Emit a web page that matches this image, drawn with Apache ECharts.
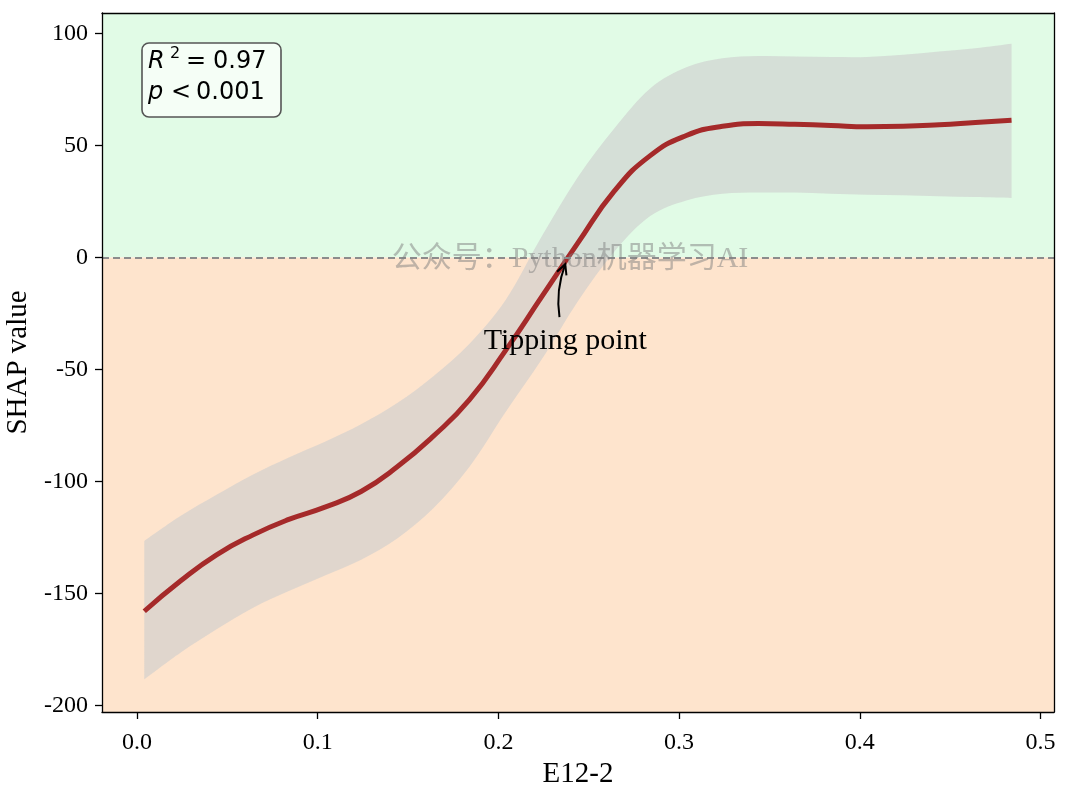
<!DOCTYPE html>
<html>
<head>
<meta charset="utf-8">
<script src="https://cdn.jsdelivr.net/npm/echarts@6/dist/echarts.min.js"></script>
<style>
html,body{margin:0;padding:0;background:#fff;}
#chart{width:1065px;height:785px;}
</style>
</head>
<body>
<div id="chart"></div>
<script>
// ---- data ----
const xValues = [0.004, 0.024, 0.044, 0.064, 0.084, 0.104, 0.124, 0.144, 0.164, 0.184, 0.204, 0.224, 0.244, 0.264, 0.284, 0.304, 0.324, 0.344, 0.364, 0.384, 0.404, 0.424, 0.444, 0.464, 0.484];
const centerValues = [-158, -144.5, -132.8, -124, -117, -111.5, -104.5, -93.5, -79.8, -63.5, -41.5, -17.5, 6.5, 29.5, 45.5, 54.5, 58.6, 59.8, 59.5, 59, 58.4, 58.6, 59.3, 60.3, 61.3];
const upperValues = [-126.6, -115.5, -106, -97, -89.3, -82.3, -74.5, -65, -53, -38.5, -19, 9.5, 36, 57.5, 75.5, 85, 89, 90, 89.8, 89.5, 89.5, 90.5, 92, 93.5, 95.5];
const lowerValues = [-188.4, -176.5, -166, -156.5, -149, -142, -135, -125.5, -112, -93.5, -69, -45.5, -19.5, 2.5, 18.5, 25.5, 28.5, 29, 29, 28.5, 28, 27.8, 27.4, 27, 26.6];
const xTicks = [0, 0.1, 0.2, 0.3, 0.4, 0.5];
const yTicks = [-200, -150, -100, -50, 0, 50, 100];
const xLimits = [-0.0194, 0.5075];
const yLimits = [-203, 109.2];
const tipping = {x: 0.237, y: -3, tailY: -26.6, textY: -37.5, label: 'Tipping point'};
const statsText = {r2: '0.97', p: '0.001'};
const watermark = '公众号：Python机器学习AI';
const xName = 'E12-2';
const yName = 'SHAP value';

const serif = "'Liberation Serif', 'Times New Roman', serif";
const bandRows = xValues.map((x, i) => [x, lowerValues[i], upperValues[i]]);
const centerPairs = xValues.map((x, i) => [x, centerValues[i]]);

// smooth path (Catmull-Rom -> cubic Bezier) through already-projected pixel points
function splinePath(pts, moveFirst) {
  let d = (moveFirst ? 'M' : 'L') + pts[0][0] + ' ' + pts[0][1];
  for (let i = 0; i < pts.length - 1; i++) {
    const p0 = pts[Math.max(i - 1, 0)], p1 = pts[i], p2 = pts[i + 1], p3 = pts[Math.min(i + 2, pts.length - 1)];
    const c1 = [p1[0] + (p2[0] - p0[0]) / 6, p1[1] + (p2[1] - p0[1]) / 6];
    const c2 = [p2[0] - (p3[0] - p1[0]) / 6, p2[1] - (p3[1] - p1[1]) / 6];
    d += 'C' + c1[0] + ' ' + c1[1] + ' ' + c2[0] + ' ' + c2[1] + ' ' + p2[0] + ' ' + p2[1];
  }
  return d;
}

const chart = echarts.init(document.getElementById('chart'), null, {renderer: 'canvas'});

const baseAxisLine = {show: true, onZero: false, lineStyle: {color: '#000', width: 1.3}};

chart.setOption({
  animation: false,
  backgroundColor: '#ffffff',
  grid: {left: 102, right: 11, top: 13, bottom: 73, containLabel: false, outerBoundsMode: 'none'},
  xAxis: [{
    type: 'value', min: xLimits[0], max: xLimits[1], z: 10,
    name: xName, nameLocation: 'middle', nameGap: 46,
    nameTextStyle: {fontFamily: serif, fontSize: 29, color: '#000'},
    axisLine: baseAxisLine,
    axisTick: {show: true, length: 7, inside: false, customValues: xTicks, lineStyle: {color: '#000', width: 1.3}},
    axisLabel: {customValues: xTicks, margin: 19, fontFamily: serif, fontSize: 24, color: '#000', formatter: v => v.toFixed(1)},
    splitLine: {show: false}
  }, {
    type: 'value', min: xLimits[0], max: xLimits[1], position: 'top', z: 10,
    axisLine: baseAxisLine, axisTick: {show: false}, axisLabel: {show: false}, splitLine: {show: false}
  }],
  yAxis: [{
    type: 'value', min: yLimits[0], max: yLimits[1], z: 10,
    name: yName, nameLocation: 'middle', nameGap: 61,
    nameTextStyle: {fontFamily: serif, fontSize: 29, color: '#000'},
    axisLine: baseAxisLine,
    axisTick: {show: true, length: 7, inside: false, customValues: yTicks, lineStyle: {color: '#000', width: 1.3}},
    axisLabel: {customValues: yTicks, margin: 14, fontFamily: serif, fontSize: 24, color: '#000'},
    splitLine: {show: false}
  }, {
    type: 'value', min: yLimits[0], max: yLimits[1], position: 'right', z: 10,
    axisLine: baseAxisLine, axisTick: {show: false}, axisLabel: {show: false}, splitLine: {show: false}
  }],
  series: [
    {
      type: 'line', data: [], z: 0, silent: true,
      markArea: {
        silent: true,
        data: [
          [{yAxis: 0, itemStyle: {color: '#e1fbe6'}}, {yAxis: yLimits[1]}],
          [{yAxis: yLimits[0], itemStyle: {color: '#fee4cd'}}, {yAxis: 0}]
        ]
      }
    },
    {
      type: 'custom', z: 1, silent: true, data: bandRows,
      encode: {x: 0, y: [1, 2]},
      renderItem: function (params, api) {
        if (params.dataIndex !== 0) return null;
        const up = bandRows.map(r => api.coord([r[0], r[2]]));
        const lo = bandRows.map(r => api.coord([r[0], r[1]])).reverse();
        const d = splinePath(up, true) + splinePath(lo, false) + 'Z';
        return {
          type: 'path',
          shape: {pathData: d},
          style: {fill: 'rgba(205,205,205,0.62)', stroke: null}
        };
      }
    },
    {
      type: 'line', data: [], z: 2, silent: true,
      markLine: {
        silent: true, symbol: 'none', label: {show: false},
        lineStyle: {color: '#8c8c8c', type: [7, 4], width: 2},
        data: [{yAxis: 0}]
      }
    },
    {
      type: 'line', data: centerPairs, smooth: true, symbol: 'none', z: 3,
      lineStyle: {color: '#a52a2a', width: 5}, silent: true
    }
  ]
});

function drawOverlay() {
  const g = {gridIndex: 0};
  const tip = chart.convertToPixel(g, [tipping.x, tipping.y]);
  const tail = chart.convertToPixel(g, [tipping.x - 0.0032, tipping.tailY]);
  const txt = chart.convertToPixel(g, [tipping.x, tipping.textY]);
  const midX = (chart.convertToPixel(g, [xLimits[0], 0])[0] + chart.convertToPixel(g, [xLimits[1], 0])[0]) / 2;
  const zeroY = chart.convertToPixel(g, [0, 0])[1];
  const cp1 = [tail[0] - 3, tail[1] - 20];
  const cp2 = [tip[0] - 6, tip[1] + 16];
  const dx = tip[0] - cp2[0], dy = tip[1] - cp2[1];
  const len = Math.sqrt(dx * dx + dy * dy);
  const ux = dx / len, uy = dy / len;
  const hl = 10, hw = 5;
  const bx = tip[0] - ux * hl, by = tip[1] - uy * hl;
  const head = [[bx - uy * hw, by + ux * hw], tip, [bx + uy * hw, by - ux * hw]];
  const mono = 'DejaVu Sans';
  chart.setOption({
    graphic: [
      {
        type: 'text', z: 50, x: midX - 8, y: zeroY + 2, silent: true,
        style: {text: watermark, fontFamily: "'Liberation Serif', 'Noto Sans CJK SC', serif", fontSize: 30,
          fill: 'rgba(128,128,128,0.5)', align: 'center', verticalAlign: 'middle'}
      },
      {
        type: 'bezierCurve', z: 60, silent: true,
        shape: {x1: tail[0], y1: tail[1], cpx1: cp1[0], cpy1: cp1[1], cpx2: cp2[0], cpy2: cp2[1], x2: tip[0], y2: tip[1]},
        style: {stroke: '#000', lineWidth: 2, fill: null}
      },
      {
        type: 'polyline', z: 60, silent: true,
        shape: {points: head},
        style: {stroke: '#000', lineWidth: 2, fill: null}
      },
      {
        type: 'text', z: 60, x: txt[0], y: txt[1], silent: true,
        style: {text: tipping.label, fontFamily: serif, fontSize: 30, fill: '#000', align: 'center', verticalAlign: 'middle'}
      },
      {
        type: 'rect', z: 70, silent: true,
        shape: {x: 142, y: 43, width: 139, height: 74, r: 7},
        style: {fill: 'rgba(255,255,255,0.65)', stroke: '#555', lineWidth: 1.6}
      },
      {type: 'text', z: 71, silent: true, x: 148, y: 62,
        style: {text: 'R', fontFamily: mono, fontStyle: 'italic', fontSize: 24, fill: '#000', verticalAlign: 'middle'}},
      {type: 'text', z: 71, silent: true, x: 170, y: 54,
        style: {text: '2', fontFamily: mono, fontSize: 16, fill: '#000', verticalAlign: 'middle'}},
      {type: 'text', z: 71, silent: true, x: 186, y: 62,
        style: {text: '=', fontFamily: mono, fontSize: 24, fill: '#000', verticalAlign: 'middle'}},
      {type: 'text', z: 71, silent: true, x: 213, y: 62,
        style: {text: statsText.r2, fontFamily: mono, fontSize: 24, fill: '#000', verticalAlign: 'middle'}},
      {type: 'text', z: 71, silent: true, x: 148, y: 93,
        style: {text: 'p', fontFamily: mono, fontStyle: 'italic', fontSize: 24, fill: '#000', verticalAlign: 'middle'}},
      {type: 'text', z: 71, silent: true, x: 171, y: 93,
        style: {text: '<', fontFamily: mono, fontSize: 24, fill: '#000', verticalAlign: 'middle'}},
      {type: 'text', z: 71, silent: true, x: 196, y: 93,
        style: {text: statsText.p, fontFamily: mono, fontSize: 24, fill: '#000', verticalAlign: 'middle'}}
    ]
  });
}
drawOverlay();
</script>
</body>
</html>
